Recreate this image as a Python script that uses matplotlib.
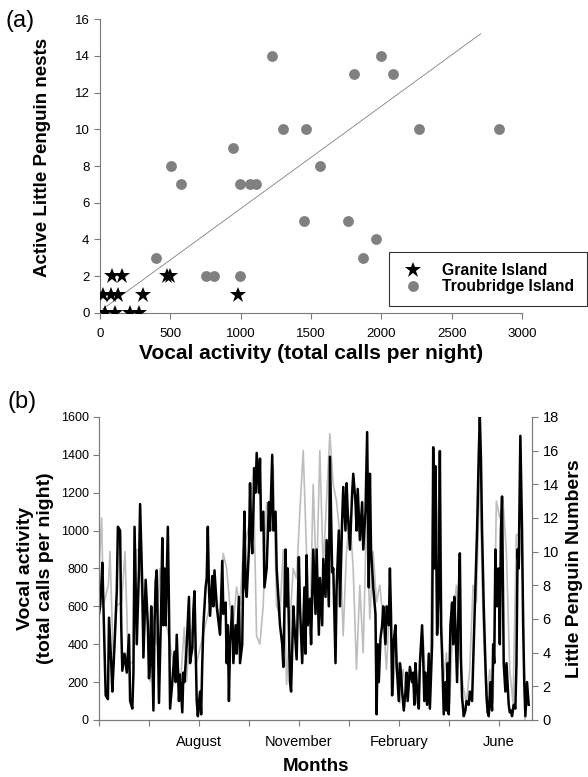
import numpy as np
import matplotlib.pyplot as plt

plt.rcParams['font.family'] = ['Liberation Sans', 'DejaVu Sans']

# (a) nests vs vocal activity
granite_calls = [36, 107, 213, 279, 24, 77, 131, 304, 981, 84, 155, 474, 498]
granite_nests = [0, 0, 0, 0, 1, 1, 1, 1, 1, 2, 2, 2, 2]
troubridge_calls = [396, 502, 573, 750, 809, 943, 993, 993, 1068, 1111, 1226, 1300,
                    1461, 1563, 1451, 1764, 1804, 1994, 2079, 2266, 2834, 1958, 1870]
troubridge_nests = [3, 8, 7, 2, 2, 9, 7, 2, 7, 7, 14, 10,
                    10, 8, 5, 5, 13, 14, 13, 10, 10, 4, 3]
trend_slope = 0.00558
trend_intercept = 0.1
trend_range = [20, 2706]

# (b) time series, day 0 = start of record
black_day = [0, 1, 2, 3, 4, 6, 8, 9, 11, 12, 14, 16, 17, 19, 20, 21, 23, 25, 27, 28,
             30, 31, 32, 34, 36, 37, 39, 40, 42, 44, 45, 46, 47, 49, 50, 51, 52, 54, 56, 57,
             58, 59, 60, 62, 63, 64, 66, 68, 69, 70, 72, 73, 75, 76, 77, 79, 81, 82, 84, 85,
             86, 88, 89, 91, 92, 93, 94, 96, 97, 98, 99, 100, 102, 103, 104, 106, 108, 109, 111, 112,
             114, 115, 116, 117, 118, 120, 121, 123, 124, 126, 127, 129, 130, 131, 132, 133, 135, 136, 137, 138,
             140, 141, 142, 144, 145, 146, 148, 149, 151, 153, 154, 156, 157, 159, 160, 162, 163, 165, 166, 168,
             169, 170, 172, 173, 175, 176, 178, 180, 181,
             183, 185, 186, 187, 188, 190, 191, 193, 195, 196, 198, 199, 201, 202, 204, 205, 207, 208, 210, 211,
             213, 214, 216, 217, 219, 220, 222, 223, 224, 226, 228, 229, 231, 232, 233, 235, 237, 238, 240, 241.5,
             243, 244, 245, 247, 249, 250, 251, 252, 253.5, 255, 256, 258, 259, 261, 262, 263, 264, 265.5, 267, 268,
             270, 271, 272, 273, 274.5, 276, 277, 278, 280, 282, 283, 284, 285, 286.5, 288, 289, 291, 292, 293, 294,
             295.5, 297, 298, 300, 301, 302, 303, 304.5, 306, 307, 308, 309, 310.5, 312, 313, 314, 315, 316.5, 318, 319,
             320, 321, 322.5, 324, 325, 326, 327, 328.5, 330, 331, 333, 334, 336, 337, 338, 339, 340.5, 342, 343, 344,
             345, 346.5, 348, 349, 350, 351, 352.5, 354, 355, 356, 357, 358.5, 360, 361, 362, 363, 364.5, 366, 367, 369,
             370, 371, 372, 373.5, 375, 376, 377, 378, 379.5, 381, 382, 383, 384, 385.5, 387]
black_calls = [560, 600, 700, 830, 600, 130, 110, 540, 300, 150, 400, 680, 1020, 1000, 500, 260, 350, 250, 450, 100,
               60, 250, 1020, 400, 800, 1140, 700, 330, 740, 500, 220, 300, 600, 50, 500, 730, 790, 90, 600, 960,
               500, 800, 500, 1020, 600, 60, 200, 360, 200, 450, 100, 240, 40, 250, 200, 400, 650, 300, 380, 580,
               680, 100, 20, 150, 30, 300, 500, 700, 750, 1020, 700, 550, 760, 600, 790, 600, 500, 450, 840, 560,
               620, 300, 500, 100, 400, 600, 300, 500, 350, 650, 300, 400, 820, 1100, 700, 650, 900, 1250, 1000, 880,
               1330, 1200, 1410, 1200, 1380, 1000, 1100, 700, 800, 1150, 1000, 1400, 1000, 1100, 800, 600, 500, 400, 280, 900,
               600, 800, 200, 150, 600, 500, 320, 860, 600,
               300, 700, 350, 870, 500, 640, 400, 900, 560, 900, 450, 750, 500, 850, 650, 950, 600, 1390, 780, 800,
               300, 700, 1000, 600, 1060, 1230, 1000, 1250, 1100, 900, 1200, 1300, 1150, 1000, 1220, 950, 1150, 900, 1100, 1520,
               700, 1300, 900, 700, 560, 30, 400, 200, 430, 500, 600, 400, 600, 500, 800, 550, 130, 420, 500, 300,
               100, 300, 250, 150, 50, 150, 250, 100, 280, 200, 250, 80, 300, 150, 60, 300, 500, 320, 100, 250,
               80, 350, 60, 400, 1440, 800, 1340, 450, 700, 1420, 500, 350, 30, 200, 50, 300, 30, 500, 620, 400,
               650, 500, 200, 660, 880, 320, 120, 20, 50, 100, 80, 150, 100, 300, 500, 700, 1000, 1400, 1600, 1380,
               1000, 600, 300, 130, 40, 20, 200, 50, 400, 300, 900, 600, 800, 400, 1000, 1180, 300, 150, 300, 80,
               40, 50, 20, 80, 60, 300, 900, 800, 1500, 1000, 500, 200, 20, 200, 80]

grey_day = [0, 2.4, 3.9, 8.4, 9.9, 12.9, 15.9, 20.4, 23.4, 26.4, 30.9, 33.9, 36.9, 39.9, 42.9, 45.9, 48.9, 51.9,
            54.9, 60.9, 66.9, 69.9, 72.9, 76.8, 78.9, 81.9, 87.9, 93.9, 99.9, 105.9, 108.9, 111.9, 114.9, 117.9,
            120.9, 123.9, 126.9, 129.9, 135.9, 138.9, 141.9, 144.9, 147.9, 150.9, 153.9, 156.9, 159.9, 162.9,
            165.9, 168.9, 171.9, 174.9, 177.9, 180.9,
            183.9, 186.9, 189.9, 192.9, 195.9, 198.9, 201.9, 204.9, 207.9, 210.9, 213.9, 216.9, 219.9, 222.9,
            225.9, 228.9, 231.9, 234.9, 237.9, 240.9, 243.9, 246.9, 249.9, 252.9, 255.9, 258.9, 261.9, 264.9,
            267.9, 270.9, 273.9, 276.9, 279.9, 282.9, 285.9, 288.9, 291.9, 294.9, 297.9, 300.9, 303.9, 306.9,
            309.9, 312.9, 315.9, 318.9, 321.9, 324.9, 327.9, 330.9, 333.9, 336.9, 339.9, 342.9, 345.9, 348.9,
            351.9, 354.9, 357.9, 360.9, 363.9, 366.9, 369.9, 372.9, 375.9, 378.9, 381.9, 383.7]
grey_penguins = [9.0, 12.0, 6.8, 8.0, 10.0, 3.4, 6.8, 7.0, 10.0, 3.4, 3.4, 10.1, 10.1, 4.5, 6.8, 2.3, 6.2, 4.5,
                 9.0, 5.6, 3.4, 4.5, 1.7, 5.5, 2.3, 5.6, 3.4, 5.1, 6.8, 7.3, 5.6, 9.9, 9.0, 6.8,
                 5.6, 7.9, 6.8, 10.1, 11.8, 15.0, 5.0, 4.5, 6.8, 12.9, 11.8, 15.1, 6.8, 6.2,
                 10.1, 2.1, 5.6, 9.0, 8.4, 12.4,
                 16, 10, 5, 14, 8, 16, 9, 13, 17, 14, 13, 11, 5, 10,
                 12, 9, 3, 8, 4, 12, 6, 10, 7, 8, 6, 3, 7, 2,
                 4, 1, 3, 1.5, 3, 2, 1, 3, 5, 1, 1, 14, 10, 15,
                 2, 4, 1, 6, 8, 4, 2, 1, 3, 8, 7, 15, 6, 1,
                 3, 1, 13, 12, 13, 10, 3, 1, 11, 11, 8, 0]

month_ticks = [0, 45, 90, 135, 180, 225, 270, 315, 360]
month_labels = ['', '', 'August', '', 'November', '', 'February', '', 'June']

spine_col = '#7a7a7a'

fig = plt.figure(figsize=(5.88, 7.77), dpi=100)

# ---- panel (a)
ax = fig.add_axes([0.170, 0.5972, 0.718, 0.3783])
ax.plot(troubridge_calls, troubridge_nests, 'o', color='#808080', markersize=7.8,
        markeredgewidth=0, label='Troubridge Island', zorder=3)
ax.plot(granite_calls, granite_nests, '*', color='black', markersize=12,
        markeredgewidth=0, label='Granite Island', zorder=4)
tx = np.array(trend_range)
ax.plot(tx, trend_intercept + trend_slope * tx, color='#808080', lw=0.6, zorder=2)
ax.set_xlim(0, 3000)
ax.set_ylim(0, 16)
ax.set_xticks(range(0, 3001, 500))
ax.set_yticks(range(0, 17, 2))
for s in ['top', 'right']:
    ax.spines[s].set_visible(False)
for s in ['left', 'bottom']:
    ax.spines[s].set_color(spine_col)
ax.tick_params(colors=spine_col, labelcolor='black', labelsize=9.5, length=4, direction='out')
ax.tick_params(axis='x', pad=7)
ax.set_xlabel('Vocal activity (total calls per night)', fontsize=15, fontweight='bold', labelpad=3)
ax.set_ylabel('Active Little Penguin nests', fontsize=13.5, fontweight='bold')
ax.yaxis.set_label_coords(-0.115, 0.53)
for sp in ax.spines.values():
    sp.set_clip_on(False)

h, l = ax.get_legend_handles_labels()
leg = fig.legend(h[::-1], l[::-1], loc='lower left', bbox_to_anchor=(0.6616, 0.6063, 0.337, 0.069),
                 mode='expand', frameon=True, fancybox=False, borderaxespad=0,
                 prop={'weight': 'bold', 'size': 11.3}, handletextpad=1.0, borderpad=0.75,
                 labelspacing=0.05, handlelength=1.6)
leg.get_frame().set_edgecolor('black')
leg.get_frame().set_linewidth(0.8)
fig.text(0.01, 0.973, '(a)', fontsize=17, va='center', ha='left')

# ---- panel (b)
axb = fig.add_axes([0.1684, 0.0734, 0.7364, 0.39])
ax2 = axb.twinx()
ax2.plot(grey_day, grey_penguins, color='#bdbdbd', lw=1.2)
axb.plot(black_day, black_calls, color='black', lw=1.8)
axb.set_zorder(ax2.get_zorder() + 1)
axb.patch.set_visible(False)

axb.set_xlim(0, 390)
axb.set_ylim(0, 1600)
ax2.set_ylim(0, 18)
axb.set_yticks(range(0, 1601, 200))
ax2.set_yticks(range(0, 19, 2))
axb.set_xticks(month_ticks)
axb.set_xticklabels(month_labels)
for a in (axb, ax2):
    a.spines['top'].set_visible(False)
    for s in ['left', 'right', 'bottom']:
        a.spines[s].set_color(spine_col)
    a.tick_params(colors=spine_col, labelcolor='black', labelsize=9, length=4, direction='out')
axb.tick_params(axis='x', pad=7, labelsize=10.5)
ax2.tick_params(axis='y', labelsize=10.5)
axb.set_xlabel('Months', fontsize=13.5, fontweight='bold', labelpad=6)
axb.set_ylabel('Vocal activity\n(total calls per night)', fontsize=14, fontweight='bold', labelpad=5)
ax2.set_ylabel('Little Penguin Numbers', fontsize=14, fontweight='bold', labelpad=5)
fig.text(0.012, 0.4826, '(b)', fontsize=17, va='center', ha='left')

fig.savefig('out.png', dpi=100, facecolor='white')
